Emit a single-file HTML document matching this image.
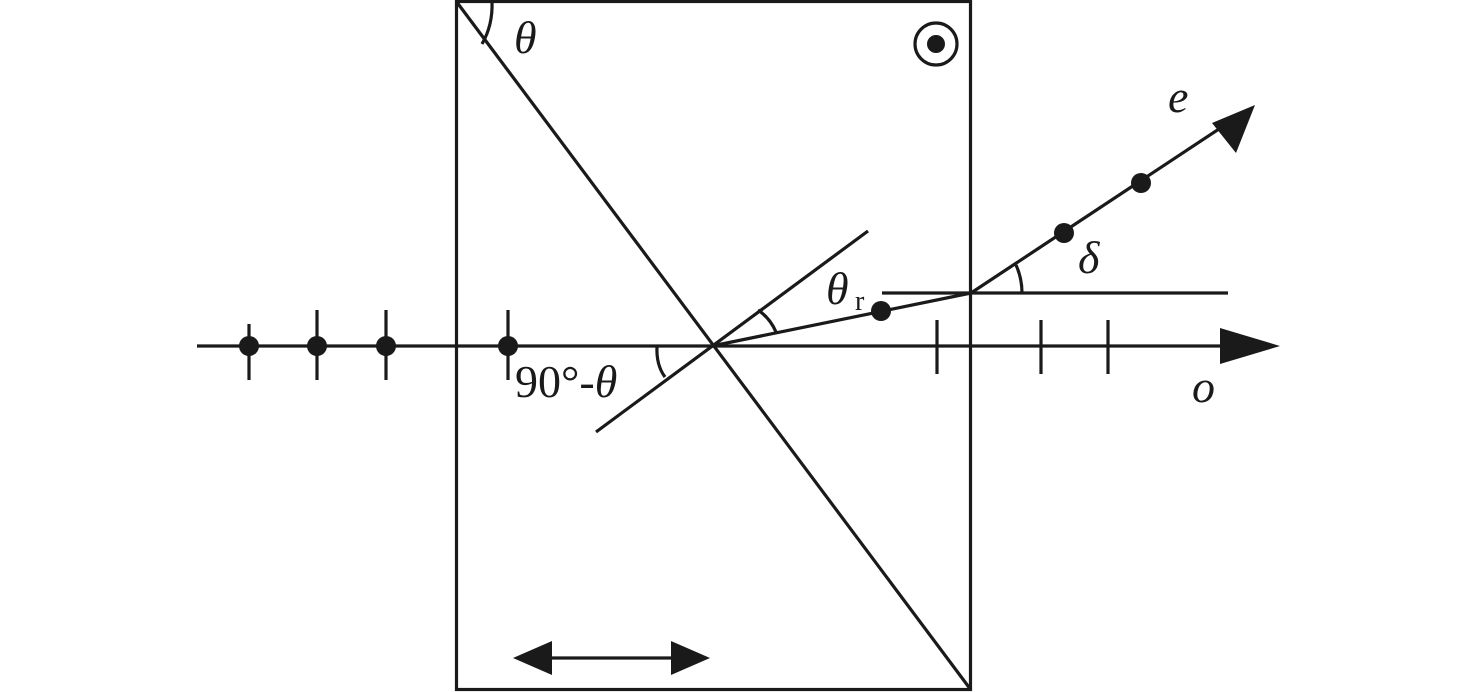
<!DOCTYPE html>
<html><head><style>html,body{margin:0;padding:0;background:#fff;}svg{display:block}</style></head>
<body>
<svg width="1476" height="692" viewBox="0 0 1476 692" xmlns="http://www.w3.org/2000/svg">
<g stroke="#1a1a1a" stroke-width="3.2" fill="none">
<rect x="456.5" y="1.5" width="514" height="688"/>
<line x1="456" y1="1" x2="971" y2="690"/>
<line x1="197" y1="346" x2="1230" y2="346"/>
<line x1="596" y1="432" x2="868" y2="231"/>
<line x1="712" y1="346" x2="971" y2="293"/>
<line x1="971" y1="293" x2="1225" y2="125"/>
<line x1="882" y1="293" x2="1228" y2="293"/>
<line x1="249" y1="324" x2="249" y2="380"/>
<line x1="317" y1="310" x2="317" y2="380"/>
<line x1="386" y1="310" x2="386" y2="380"/>
<line x1="508" y1="310" x2="508" y2="380"/>
<line x1="937" y1="320" x2="937" y2="374"/>
<line x1="1041" y1="320" x2="1041" y2="374"/>
<line x1="1108" y1="320" x2="1108" y2="374"/>
<line x1="540" y1="658" x2="685" y2="658"/>
<path d="M492 1 Q493 25 482 44"/>
<path d="M758 310 Q770 318 776 332"/>
<path d="M657 346 Q656 365 665 377"/>
<path d="M1016 265 Q1022 278 1022 293"/>
<circle cx="936" cy="44" r="21"/>
</g>
<g fill="#1a1a1a">
<circle cx="249" cy="346" r="10"/>
<circle cx="317" cy="346" r="10"/>
<circle cx="386" cy="346" r="10"/>
<circle cx="508" cy="346" r="10"/>
<circle cx="881" cy="311" r="10"/>
<circle cx="1064" cy="233" r="10"/>
<circle cx="1141" cy="183" r="10"/>
<circle cx="936" cy="44" r="9"/>
<polygon points="1280,346 1220,328 1220,364"/>
<polygon points="1255,105 1236,153 1212,123"/>
<polygon points="513,658 552,641 552,675"/>
<polygon points="710,658 671,641 671,675"/>
</g>
<g style="font-family:'Liberation Serif',serif" fill="#1a1a1a" font-size="46">
<text x="514" y="53" font-style="italic">θ</text>
<text x="826" y="304" font-style="italic">θ</text>
<text x="855" y="310" font-size="28">r</text>
<text x="515" y="397">90°-<tspan font-style="italic">θ</tspan></text>
<text x="1078" y="273" font-style="italic">δ</text>
<text x="1168" y="112" font-style="italic">e</text>
<text x="1192" y="402" font-style="italic">o</text>
</g>
</svg>
</body></html>
